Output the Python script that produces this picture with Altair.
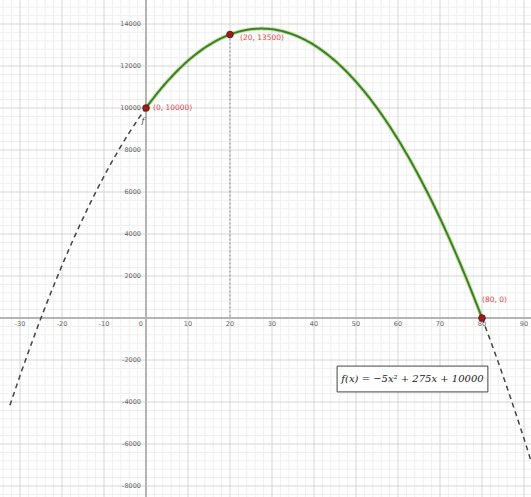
import altair as alt
import numpy as np
import pandas as pd

# f(x) = a x^2 + b x + c
a, b, c = -5, 275, 10000

# visible window (GeoGebra-style graphics view)
x_min, x_max = -34.762, 91.667
y_min, y_max = -8523.8, 15142.9
curve_start = -32.4

# gridlines
x_minor = [v for v in range(-34, 92, 2) if v % 10 != 0]
y_minor = [v for v in range(-8400, 15200, 400) if v % 2000 != 0]
x_major = [-30, -20, -10, 10, 20, 30, 40, 50, 60, 70, 80, 90]
y_major = [-8000, -6000, -4000, -2000, 2000, 4000, 6000, 8000, 10000, 12000, 14000]

# axis tick labels
x_tick_vals = [-30, -20, -10, 10, 20, 30, 40, 50, 60, 70, 80, 90]
x_tick_text = ["-30", "-20", "-10", "10", "20", "30", "40", "50", "60", "70", "80", "90"]
y_tick_vals = [-8000, -6000, -4000, -2000, 2000, 4000, 6000, 8000, 10000, 12000, 14000]
y_tick_text = ["-8000", "-6000", "-4000", "-2000", "2000", "4000", "6000", "8000",
               "10000", "12000", "14000"]

# marked points
pt_x = [0, 20, 80]
pt_y = [10000, 13500, 0]
pt_text = ["(0, 10000)", "(20, 13500)", "(80, 0)"]
pt_dx = [7, 10, 0]
pt_dy = [0, 3, -18]

formula = "f(x) = \u22125x\u00b2 + 275x + 10000"
box_x, box_x2 = 45.5, 81.4
box_y, box_y2 = -2290, -3520

W, H = 531, 497
xs = alt.Scale(domain=[x_min, x_max], nice=False, zero=False)
ys = alt.Scale(domain=[y_min, y_max], nice=False, zero=False)


def curve(lo, hi, n=200):
    t = np.linspace(lo, hi, n)
    return pd.DataFrame({"x": t, "y": a * t**2 + b * t + c})


left = curve(curve_start, 0)
mid = curve(0, 80)
right = curve(80, x_max)

minor_v = alt.Chart(pd.DataFrame({"x": x_minor})).mark_rule(
    color="#efefef", strokeWidth=1).encode(x=alt.X("x:Q", scale=xs, axis=None))
minor_h = alt.Chart(pd.DataFrame({"y": y_minor})).mark_rule(
    color="#efefef", strokeWidth=1).encode(y=alt.Y("y:Q", scale=ys, axis=None))
major_v = alt.Chart(pd.DataFrame({"x": x_major})).mark_rule(
    color="#d4d4d4", strokeWidth=1).encode(x=alt.X("x:Q", scale=xs, axis=None))
major_h = alt.Chart(pd.DataFrame({"y": y_major})).mark_rule(
    color="#d4d4d4", strokeWidth=1).encode(y=alt.Y("y:Q", scale=ys, axis=None))
axis_v = alt.Chart(pd.DataFrame({"x": [0]})).mark_rule(
    color="#b4b4b4", strokeWidth=2).encode(x=alt.X("x:Q", scale=xs, axis=None))
axis_h = alt.Chart(pd.DataFrame({"y": [0]})).mark_rule(
    color="#b4b4b4", strokeWidth=2).encode(y=alt.Y("y:Q", scale=ys, axis=None))

x_labels = alt.Chart(pd.DataFrame({"x": x_tick_vals, "t": x_tick_text})).mark_text(
    fontSize=6.5, color="#666666", baseline="top", dy=3, font="DejaVu Sans"
).encode(x=alt.X("x:Q", scale=xs, axis=None), y=alt.value(318), text="t:N")
origin_label = alt.Chart(pd.DataFrame({"t": ["0"]})).mark_text(
    fontSize=6.5, color="#666666", baseline="top", align="right", font="DejaVu Sans"
).encode(x=alt.value(143), y=alt.value(321), text="t:N")
y_labels = alt.Chart(pd.DataFrame({"y": y_tick_vals, "t": y_tick_text})).mark_text(
    fontSize=6.5, color="#666666", align="right", baseline="middle", font="DejaVu Sans"
).encode(x=alt.value(141), y=alt.Y("y:Q", scale=ys, axis=None), text="t:N")

dash_style = dict(color="#444444", strokeWidth=1.5, strokeDash=[5, 4], clip=True)
left_line = alt.Chart(left).mark_line(**dash_style).encode(
    x=alt.X("x:Q", scale=xs, axis=None), y=alt.Y("y:Q", scale=ys, axis=None))
right_line = alt.Chart(right).mark_line(**dash_style).encode(
    x=alt.X("x:Q", scale=xs, axis=None), y=alt.Y("y:Q", scale=ys, axis=None))
mid_glow = alt.Chart(mid).mark_line(color="#9fd27f", strokeWidth=4, opacity=0.6).encode(
    x=alt.X("x:Q", scale=xs, axis=None), y=alt.Y("y:Q", scale=ys, axis=None))
mid_line = alt.Chart(mid).mark_line(color="#3f7f1f", strokeWidth=2).encode(
    x=alt.X("x:Q", scale=xs, axis=None), y=alt.Y("y:Q", scale=ys, axis=None))

drop = alt.Chart(pd.DataFrame({"x": [pt_x[1]], "y": [pt_y[1]], "y2": [0]})).mark_rule(
    color="#8a8a8a", strokeWidth=1, strokeDash=[2, 2]).encode(
    x=alt.X("x:Q", scale=xs, axis=None), y=alt.Y("y:Q", scale=ys, axis=None), y2="y2:Q")

pts_df = pd.DataFrame({"x": pt_x, "y": pt_y, "t": pt_text, "dx": pt_dx, "dy": pt_dy})
points = alt.Chart(pts_df).mark_point(
    filled=True, size=45, color="#9b1c1c", opacity=1, stroke="#5a0f0f", strokeWidth=0.8
).encode(x=alt.X("x:Q", scale=xs, axis=None), y=alt.Y("y:Q", scale=ys, axis=None))

label_layers = []
for i in range(len(pt_x)):
    label_layers.append(
        alt.Chart(pts_df.iloc[[i]]).mark_text(
            fontSize=7.5, color="#e0464a", align="left", baseline="middle",
            dx=pt_dx[i], dy=pt_dy[i], font="DejaVu Sans"
        ).encode(x=alt.X("x:Q", scale=xs, axis=None), y=alt.Y("y:Q", scale=ys, axis=None),
                 text="t:N")
    )

f_label = alt.Chart(pd.DataFrame({"x": [0], "y": [10000], "t": ["f"]})).mark_text(
    fontSize=8, fontStyle="italic", color="#444444", font="DejaVu Serif", dx=-3, dy=13
).encode(x=alt.X("x:Q", scale=xs, axis=None), y=alt.Y("y:Q", scale=ys, axis=None),
         text="t:N")

box = alt.Chart(pd.DataFrame({"x": [box_x], "x2": [box_x2], "y": [box_y], "y2": [box_y2]})
                ).mark_rect(fill="white", stroke="#444444", strokeWidth=1).encode(
    x=alt.X("x:Q", scale=xs, axis=None), x2="x2:Q",
    y=alt.Y("y:Q", scale=ys, axis=None), y2="y2:Q")
box_text = alt.Chart(pd.DataFrame({"x": [(box_x + box_x2) / 2], "y": [(box_y + box_y2) / 2],
                                   "t": [formula]})).mark_text(
    fontSize=10, font="DejaVu Serif", fontStyle="italic", color="#222222",
    align="center", baseline="middle"
).encode(x=alt.X("x:Q", scale=xs, axis=None), y=alt.Y("y:Q", scale=ys, axis=None),
         text="t:N")

chart = alt.layer(
    minor_v, minor_h, major_v, major_h, axis_v, axis_h,
    x_labels, origin_label, y_labels,
    drop, left_line, right_line, mid_glow, mid_line,
    points, *label_layers, f_label, box, box_text
).properties(
    width=W, height=H, padding=0, autosize=alt.AutoSizeParams(type="none"),
    background="white"
).configure_view(stroke=None)

chart.save("out.html", embed_options={"renderer": "svg", "actions": False})
